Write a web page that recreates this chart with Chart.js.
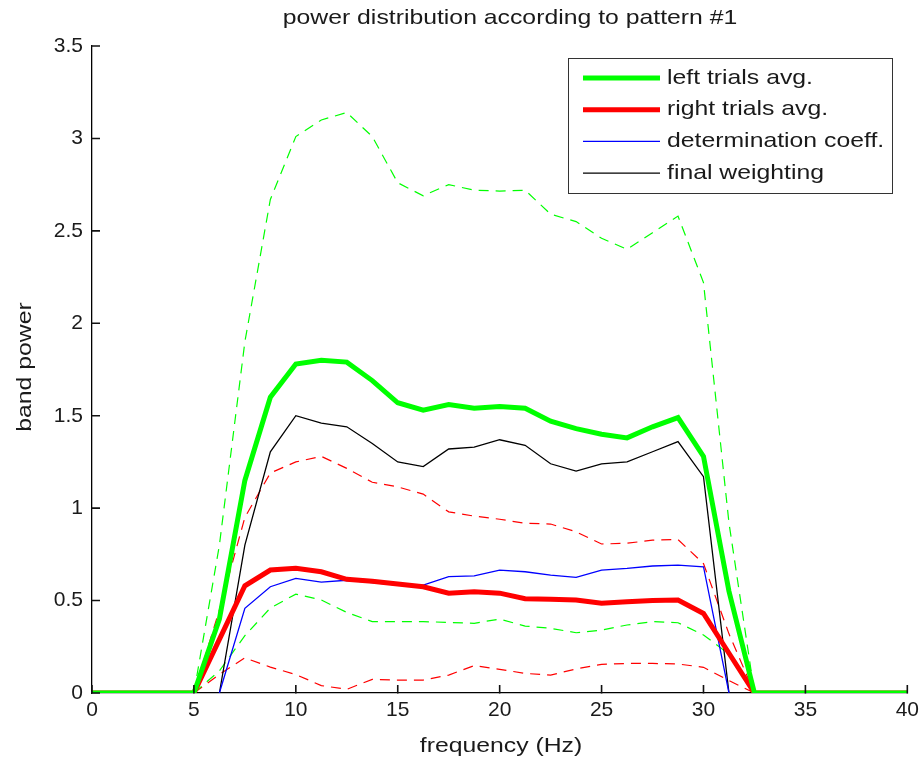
<!DOCTYPE html>
<html>
<head>
<meta charset="utf-8">
<script src="https://cdn.jsdelivr.net/npm/chart.js@4/dist/chart.umd.min.js"></script>
<style>
  html, body { margin: 0; padding: 0; background: #fff; }
  canvas { display: block; }
</style>
</head>
<body>
<canvas id="chartPower" width="924" height="758"></canvas>
<script>
// frequency grid (Hz)
const freqHz = [0, 1.25, 2.5, 3.75, 5, 6.25, 7.5, 8.75, 10, 11.25, 12.5, 13.75, 15, 16.25, 17.5, 18.75,
  20, 21.25, 22.5, 23.75, 25, 26.25, 27.5, 28.75, 30, 31.25, 32.5, 33.75, 35, 36.25, 37.5, 38.75, 40];

// averages
const leftAvg = [0, 0, 0, 0, 0, 0.40, 1.15, 1.60, 1.78, 1.80, 1.79, 1.69, 1.57, 1.53, 1.56, 1.54,
  1.55, 1.54, 1.47, 1.43, 1.40, 1.38, 1.44, 1.49, 1.28, 0.55, 0, 0, 0, 0, 0, 0, 0];
const rightAvg = [0, 0, 0, 0, 0, 0.29, 0.58, 0.665, 0.675, 0.656, 0.615, 0.605, 0.59, 0.575, 0.54, 0.548,
  0.54, 0.51, 0.507, 0.503, 0.485, 0.494, 0.50, 0.503, 0.43, 0.215, 0, 0, 0, 0, 0, 0, 0];
// blue and black only visible between ~6 and ~31 Hz
const detCoeff = [null, null, null, null, null, 0, 0.458, 0.575, 0.62, 0.60, 0.61, 0.597, 0.584, 0.584, 0.629, 0.634,
  0.665, 0.656, 0.638, 0.626, 0.665, 0.674, 0.687, 0.692, 0.683, 0, null, null, null, null, null, null, null];
const finalWeight = [null, null, null, null, null, 0, 0.80, 1.305, 1.50, 1.46, 1.44, 1.35, 1.25, 1.225, 1.32, 1.33,
  1.37, 1.34, 1.24, 1.20, 1.24, 1.25, 1.305, 1.36, 1.17, 0, null, null, null, null, null, null, null];

// spread (dashed)
const leftUpper = [0, 0, 0, 0, 0, 0.80, 1.90, 2.67, 3.01, 3.10, 3.14, 3.01, 2.76, 2.69, 2.75, 2.72,
  2.715, 2.72, 2.59, 2.55, 2.46, 2.40, 2.49, 2.58, 2.22, 0.92, 0, 0, 0, 0, 0, 0, 0];
const leftLower = [0, 0, 0, 0, 0, 0.12, 0.31, 0.46, 0.535, 0.503, 0.436, 0.386, 0.386, 0.386, 0.382, 0.377,
  0.40, 0.362, 0.35, 0.326, 0.34, 0.368, 0.386, 0.38, 0.314, 0.21, 0, 0, 0, 0, 0, 0, 0];
const rightUpper = [0, 0, 0, 0, 0, 0.45, 0.95, 1.19, 1.25, 1.28, 1.215, 1.14, 1.115, 1.076, 0.98, 0.957,
  0.94, 0.918, 0.914, 0.872, 0.806, 0.81, 0.827, 0.83, 0.70, 0.32, 0, 0, 0, 0, 0, 0, 0];
const rightLower = [0, 0, 0, 0, 0, 0.10, 0.19, 0.14, 0.10, 0.04, 0.02, 0.074, 0.07, 0.07, 0.097, 0.148,
  0.128, 0.106, 0.097, 0.13, 0.155, 0.16, 0.16, 0.157, 0.139, 0.067, 0, 0, 0, 0, 0, 0, 0];

const FONT = '"Liberation Sans", Arial, Helvetica, sans-serif';
const TEXT_COLOR = '#1a1a1a';

function pts(values) {
  return freqHz.map((f, i) => ({ x: f, y: values[i] }));
}

function series(label, values, color, width, dashed) {
  return {
    label: label,
    data: pts(values),
    borderColor: color,
    backgroundColor: color,
    borderWidth: width,
    borderDash: dashed ? [10, 7] : [],
    pointRadius: 0,
    tension: 0,
    fill: false,
    clip: 0,
    spanGaps: false,
    inLegend: !dashed
  };
}

// the original lettering is a bit wider than Arial
function drawText(ctx, txt, x, y, size, align, rotate) {
  ctx.save();
  ctx.translate(x, y);
  if (rotate) ctx.rotate(-Math.PI / 2);
  ctx.scale(1.18, 1);
  ctx.font = size + 'px ' + FONT;
  ctx.fillStyle = TEXT_COLOR;
  ctx.textAlign = align;
  ctx.textBaseline = 'middle';
  ctx.fillText(txt, 0, 0);
  ctx.restore();
}

// inward ticks, titles and boxed legend
const matlabLook = {
  id: 'matlabLook',
  afterDraw(chart) {
    const ctx = chart.ctx;
    const xs = chart.scales.x;
    const ys = chart.scales.y;
    const area = chart.chartArea;

    ctx.save();
    ctx.setLineDash([]);
    ctx.strokeStyle = '#111';
    ctx.lineWidth = 1.6;
    ctx.beginPath();
    xs.ticks.forEach(t => {
      const px = xs.getPixelForValue(t.value);
      ctx.moveTo(px, area.bottom + 0.5);
      ctx.lineTo(px, area.bottom - 8);
    });
    ys.ticks.forEach(t => {
      const py = ys.getPixelForValue(t.value);
      ctx.moveTo(area.left - 0.5, py);
      ctx.lineTo(area.left + 8, py);
    });
    ctx.stroke();
    ctx.restore();

    drawText(ctx, 'power distribution according to pattern #1', 510, 18, 21, 'center');
    drawText(ctx, 'frequency (Hz)', 501, 746, 21, 'center');
    drawText(ctx, 'band power', 25, 367, 21, 'center', true);

    const items = chart.data.datasets.filter(d => d.inLegend);
    const bx = 568, by = 58, bw = 324, bh = 135;
    ctx.save();
    ctx.setLineDash([]);
    ctx.fillStyle = '#fff';
    ctx.fillRect(bx, by, bw, bh);
    ctx.strokeStyle = '#333';
    ctx.lineWidth = 1;
    ctx.strokeRect(bx + 0.5, by + 0.5, bw, bh);
    items.forEach((d, i) => {
      const ry = 78 + i * 31.7;
      ctx.strokeStyle = d.borderColor;
      ctx.lineWidth = d.borderWidth;
      ctx.beginPath();
      ctx.moveTo(583, ry);
      ctx.lineTo(660, ry);
      ctx.stroke();
      drawText(ctx, d.label, 667, ry, 21, 'left');
    });
    ctx.restore();
  }
};

function renderChart() {
  const ctx = document.getElementById('chartPower').getContext('2d');
  new Chart(ctx, {
    type: 'line',
    data: {
      datasets: [
        series('left trials avg.', leftAvg, '#00ff00', 5, false),
        series('right trials avg.', rightAvg, '#ff0000', 5, false),
        series('determination coeff.', detCoeff, '#0000ff', 1.3, false),
        series('final weighting', finalWeight, '#000000', 1.3, false),
        series('left upper', leftUpper, '#00ff00', 1.2, true),
        series('left lower', leftLower, '#00ff00', 1.2, true),
        series('right upper', rightUpper, '#ff0000', 1.2, true),
        series('right lower', rightLower, '#ff0000', 1.2, true)
      ]
    },
    options: {
      responsive: false,
      animation: false,
      devicePixelRatio: 1,
      events: [],
      layout: { padding: { top: 46, right: 16, left: 0, bottom: 0 } },
      plugins: {
        legend: { display: false },
        title: { display: false },
        tooltip: { enabled: false }
      },
      scales: {
        x: {
          type: 'linear',
          min: 0,
          max: 40,
          ticks: { stepSize: 5, color: TEXT_COLOR, font: { family: FONT, size: 21 }, padding: 5, maxRotation: 0 },
          grid: { drawOnChartArea: false, drawTicks: false },
          border: { color: '#000', width: 1.3 },
          afterFit: s => { s.height = 65; }
        },
        y: {
          min: 0,
          max: 3.5,
          ticks: {
            stepSize: 0.5,
            color: TEXT_COLOR,
            font: { family: FONT, size: 21 },
            padding: 9,
            callback: v => String(Math.round(v * 10) / 10)
          },
          grid: { drawOnChartArea: false, drawTicks: false },
          border: { color: '#000', width: 1.3 },
          afterFit: s => { s.width = 92; }
        }
      }
    },
    plugins: [matlabLook]
  });
}

window.onload = renderChart;
</script>
</body>
</html>
